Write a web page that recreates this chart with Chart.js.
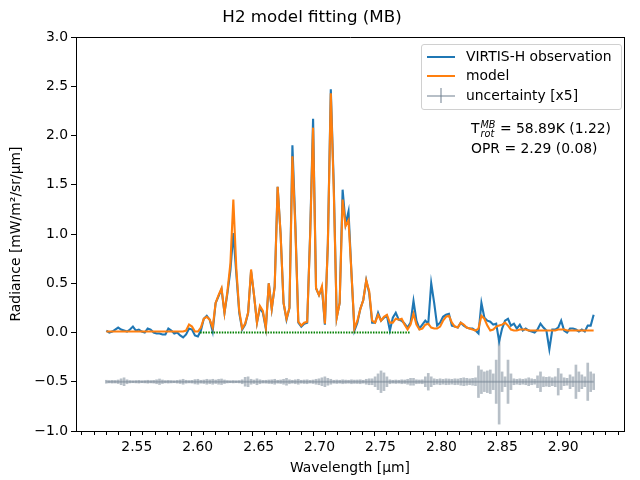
<!DOCTYPE html>
<html>
<head>
<meta charset="utf-8">
<script src="https://cdn.jsdelivr.net/npm/chart.js@4.4.1/dist/chart.umd.min.js"></script>
<style>
    body { margin: 0; background: #fff; }
    #wrap { position: relative; width: 640px; height: 480px; font-family: "DejaVu Sans", sans-serif; }
    #legendBox {
        position: absolute; left: 421px; top: 44px; width: 199px; height: 64px;
        border: 1px solid #d0d0d0; border-radius: 3px; background: rgba(255, 255, 255, 0.8);
    }
    .row { position: absolute; left: 0; height: 19px; font-size: 13.9px; line-height: 19px; color: #000; white-space: nowrap; }
    .swatch { position: absolute; left: 5px; top: 9px; width: 28px; height: 2px; }
    .tick { position: absolute; left: 18px; top: 2px; width: 2px; height: 15px; }
    .label { position: absolute; left: 44px; top: 0; }
    #note { position: absolute; left: 471px; top: 118px; font-size: 13.9px; color: #000; line-height: 20px; white-space: nowrap; }
    .ss { display: inline-block; vertical-align: -4px; line-height: 9px; font-size: 9.7px; font-style: italic; margin-left: 1px; }
    .ss span { display: block; }
</style>
</head>
<body>
<div id="wrap">
    <canvas id="myChart" width="640" height="480"></canvas>
    <div id="legendBox"></div>
    <div id="note">
        <div>T<span class="ss"><span>MB</span><span>rot</span></span> = 58.89K (1.22)</div>
        <div>OPR = 2.29 (0.08)</div>
    </div>
</div>
<script>
// wavelength grid of the spectrum (µm), evenly sampled
const wlStart = 2.525;
const wlEnd = 2.925;

// VIRTIS-H observed radiance (mW/m2/sr/µm)
const observation = [
    0.02, 0.00, 0.01, 0.03, 0.05, 0.03, 0.02, 0.01, 0.03, 0.06,
    0.02, 0.03, 0.01, 0.00, 0.04, 0.03, 0.00, -0.01, -0.01, -0.02,
    -0.02, 0.04, 0.02, -0.01, 0.00, -0.03, -0.05, -0.02, 0.04, 0.03,
    -0.03, -0.04, 0.02, 0.14, 0.17, 0.13, 0.01, 0.30, 0.37, 0.44,
    0.20, 0.40, 0.63, 1.01, 0.60, 0.20, 0.03, 0.08, 0.20, 0.62,
    0.38, 0.10, 0.25, 0.20, 0.04, 0.50, 0.24, 0.47, 1.48, 1.00,
    0.30, 0.13, 0.25, 1.90, 1.10, 0.10, 0.06, 0.09, 0.10, 1.00,
    2.17, 0.45, 0.38, 0.45, 0.08, 0.90, 2.47, 1.50, 0.15, 0.30,
    1.45, 1.10, 1.23, 0.60, 0.02, 0.10, 0.24, 0.33, 0.53, 0.40,
    0.10, 0.10, 0.20, 0.12, 0.15, 0.17, 0.02, 0.15, 0.20, 0.13,
    0.12, 0.09, 0.05, 0.10, 0.32, 0.12, 0.04, 0.08, 0.12, 0.09,
    0.50, 0.30, 0.07, 0.10, 0.16, 0.18, 0.19, 0.07, 0.06, 0.05,
    0.10, 0.07, 0.05, 0.04, 0.04, 0.02, -0.01, 0.30, 0.15, 0.12,
    0.11, 0.08, 0.09, -0.09, 0.04, 0.12, 0.14, 0.07, 0.09, 0.04,
    0.08, 0.02, 0.04, 0.02, 0.01, 0.00, 0.03, 0.09, 0.05, 0.02,
    -0.17, 0.03, 0.03, 0.05, 0.12, 0.02, 0.00, 0.04, 0.04, 0.03,
    0.01, 0.03, 0.01, 0.07, 0.07, 0.18
];

// fitted model radiance
const model = [
    0.01, 0.01, 0.01, 0.01, 0.01, 0.01, 0.01, 0.01, 0.01, 0.01,
    0.01, 0.01, 0.01, 0.01, 0.01, 0.01, 0.01, 0.01, 0.01, 0.01,
    0.01, 0.01, 0.01, 0.01, 0.01, 0.01, 0.01, 0.02, 0.08, 0.06,
    0.01, 0.01, 0.05, 0.14, 0.16, 0.13, 0.05, 0.30, 0.38, 0.45,
    0.20, 0.42, 0.70, 1.35, 0.65, 0.22, 0.04, 0.09, 0.20, 0.64,
    0.38, 0.10, 0.27, 0.22, 0.05, 0.50, 0.24, 0.46, 1.48, 1.00,
    0.30, 0.14, 0.25, 1.79, 1.05, 0.11, 0.07, 0.10, 0.11, 0.98,
    2.08, 0.45, 0.38, 0.47, 0.09, 0.90, 2.43, 1.45, 0.15, 0.30,
    1.35, 1.08, 1.14, 0.60, 0.04, 0.12, 0.24, 0.33, 0.53, 0.42,
    0.12, 0.10, 0.18, 0.12, 0.16, 0.18, 0.10, 0.10, 0.14, 0.13,
    0.14, 0.08, 0.03, 0.08, 0.19, 0.08, 0.03, 0.04, 0.08, 0.09,
    0.05, 0.04, 0.04, 0.06, 0.12, 0.16, 0.17, 0.10, 0.06, 0.05,
    0.10, 0.08, 0.05, 0.04, 0.03, 0.02, 0.04, 0.17, 0.14, 0.07,
    0.02, 0.03, 0.06, 0.07, 0.08, 0.10, 0.07, 0.03, 0.02, 0.02,
    0.03, 0.03, 0.03, 0.02, 0.02, 0.02, 0.02, 0.02, 0.02, 0.02,
    0.02, 0.02, 0.02, 0.03, 0.03, 0.03, 0.02, 0.02, 0.02, 0.02,
    0.02, 0.02, 0.02, 0.02, 0.02, 0.02
];

// 1-sigma uncertainty, already multiplied by 5, plotted around uncOffset
const uncertainty = [
    0.015, 0.012, 0.014, 0.013, 0.018, 0.030, 0.040, 0.020, 0.012, 0.010,
    0.012, 0.014, 0.010, 0.012, 0.015, 0.012, 0.014, 0.020, 0.028, 0.018,
    0.012, 0.014, 0.012, 0.010, 0.014, 0.018, 0.025, 0.015, 0.012, 0.014,
    0.022, 0.025, 0.015, 0.018, 0.025, 0.020, 0.025, 0.018, 0.025, 0.028,
    0.018, 0.012, 0.010, 0.012, 0.010, 0.012, 0.020, 0.045, 0.050, 0.025,
    0.018, 0.030, 0.020, 0.014, 0.015, 0.018, 0.020, 0.025, 0.015, 0.018,
    0.025, 0.035, 0.020, 0.015, 0.020, 0.025, 0.015, 0.018, 0.020, 0.014,
    0.018, 0.025, 0.030, 0.040, 0.050, 0.035, 0.025, 0.015, 0.018, 0.015,
    0.020, 0.017, 0.015, 0.020, 0.017, 0.018, 0.020, 0.015, 0.025, 0.030,
    0.030, 0.050, 0.080, 0.110, 0.090, 0.050, 0.020, 0.015, 0.018, 0.015,
    0.020, 0.018, 0.025, 0.035, 0.035, 0.020, 0.018, 0.020, 0.050, 0.085,
    0.050, 0.030, 0.025, 0.030, 0.025, 0.030, 0.028, 0.025, 0.030, 0.028,
    0.035, 0.040, 0.035, 0.030, 0.035, 0.040, 0.160, 0.120, 0.100, 0.110,
    0.120, 0.080, 0.220, 0.430, 0.100, 0.050, 0.220, 0.080, 0.030, 0.025,
    0.030, 0.025, 0.030, 0.040, 0.030, 0.025, 0.060, 0.100, 0.050, 0.045,
    0.050, 0.040, 0.050, 0.135, 0.080, 0.040, 0.035, 0.070, 0.050, 0.170,
    0.100, 0.070, 0.050, 0.190, 0.100, 0.080
];
const uncOffset = -0.5;

// wavelength window used for the fit (green markers at zero)
const fitRange = [2.602, 2.774];

const legendItems = ['VIRTIS-H observation', 'model', 'uncertainty [x5]'];
const colors = ['#1f77b4', '#ff7f0e', 'rgba(112, 128, 144, 0.5)'];

const FONT = 'DejaVu Sans';
// not a whole number of 0.01 steps apart, so ticks stay on round values
const X_MIN = 2.5052;
const X_MAX = 2.9448;

// x position of every sample
const wavelength = observation.map((v, i) => wlStart + i * (wlEnd - wlStart) / (observation.length - 1));

function toPoints(values) {
    return values.map((v, i) => ({ x: wavelength[i], y: v }));
}

function isMajor(value) {
    return Math.abs(value * 20 - Math.round(value * 20)) < 1e-6;
}

const errorBars = uncertainty.map((u, i) => ({ x: wavelength[i], y: [uncOffset - u, uncOffset + u] }));
const errorLine = wavelength.map(w => ({ x: w, y: uncOffset }));

const config = {
    type: 'line',
    data: {
        datasets: [
            {
                label: legendItems[0],
                data: toPoints(observation),
                borderColor: colors[0],
                borderWidth: 2.1,
                pointRadius: 0,
                order: 1
            },
            {
                label: legendItems[1],
                data: toPoints(model),
                borderColor: colors[1],
                borderWidth: 2.1,
                pointRadius: 0,
                order: 0
            },
            {
                label: 'fit range',
                data: [{ x: fitRange[0], y: 0 }, { x: fitRange[1], y: 0 }],
                borderColor: '#008000',
                borderWidth: 2,
                borderDash: [1.5, 1.2],
                pointRadius: 0,
                order: -1
            },
            {
                label: legendItems[2],
                data: errorLine,
                borderColor: colors[2],
                borderWidth: 2,
                pointRadius: 0,
                order: 3
            },
            {
                type: 'bar',
                label: 'errorbars',
                data: errorBars,
                backgroundColor: colors[2],
                borderWidth: 0,
                barThickness: 2,
                order: 4
            }
        ]
    },
    options: {
        responsive: false,
        animation: false,
        layout: { padding: { left: 0, right: 16, top: 0, bottom: 0 } },
        plugins: {
            legend: { display: false },
            tooltip: { enabled: false },
            title: {
                display: true,
                text: 'H2 model fitting (MB)',
                color: '#000',
                font: { family: FONT, size: 16.7, weight: 'normal' },
                padding: { top: 8, bottom: 9 }
            }
        },
        scales: {
            x: {
                type: 'linear',
                position: 'bottom',
                min: X_MIN,
                max: X_MAX,
                afterFit: (scale) => { scale.height = 49; },
                border: { display: true, color: '#000', width: 1 },
                grid: {
                    display: true,
                    drawOnChartArea: false,
                    tickLength: 5,
                    tickColor: '#000',
                    tickWidth: 1,
                    // minor ticks: dash pattern cuts them short
                    tickBorderDash: (ctx) => (ctx.tick && isMajor(ctx.tick.value)) ? [] : [3, 20]
                },
                ticks: {
                    stepSize: 0.01,
                    includeBounds: false,
                    autoSkip: false,
                    maxRotation: 0,
                    padding: 3,
                    color: '#000',
                    font: { family: FONT, size: 13.9 },
                    callback: (value) => isMajor(value) ? value.toFixed(2) : ''
                },
                title: {
                    display: true,
                    text: 'Wavelength [μm]',
                    color: '#000',
                    font: { family: FONT, size: 13.9 },
                    padding: { top: 0, bottom: 3 }
                }
            },
            y: {
                type: 'linear',
                position: 'left',
                min: -1,
                max: 3,
                afterFit: (scale) => { scale.width = 76; },
                border: { display: true, color: '#000', width: 1 },
                grid: { display: true, drawOnChartArea: false, tickLength: 5, tickColor: '#000', tickWidth: 1 },
                ticks: {
                    stepSize: 0.5,
                    padding: 3,
                    color: '#000',
                    font: { family: FONT, size: 13.9 },
                    callback: (value) => value.toFixed(1).replace('-', '\u2212')
                },
                title: {
                    display: true,
                    text: 'Radiance [mW/m²/sr/μm]',
                    color: '#000',
                    font: { family: FONT, size: 13.9 },
                    padding: { top: 8, bottom: 0 }
                }
            },
            // top and right spines of the frame
            xTop: {
                type: 'linear',
                position: 'top',
                min: X_MIN,
                max: X_MAX,
                afterFit: (scale) => { scale.height = 0; },
                border: { display: true, color: '#000', width: 1 },
                grid: { display: false, drawTicks: false },
                ticks: { display: false }
            },
            yRight: {
                type: 'linear',
                position: 'right',
                min: -1,
                max: 3,
                afterFit: (scale) => { scale.width = 0; },
                border: { display: true, color: '#000', width: 1 },
                grid: { display: false, drawTicks: false },
                ticks: { display: false }
            }
        }
    }
};

const myChart = new Chart(document.getElementById('myChart'), config);

// legend drawn as html on top of the chart
function buildLegend() {
    const box = document.getElementById('legendBox');
    legendItems.forEach((name, i) => {
        const row = document.createElement('div');
        row.className = 'row';
        row.style.top = (2 + i * 19.3) + 'px';
        row.style.width = '100%';
        let html = `<div class="swatch" style="background:${colors[i]}"></div>`;
        if (i === 2) {
            html += `<div class="tick" style="background:${colors[i]}"></div>`;
        }
        html += `<div class="label">${name}</div>`;
        row.innerHTML = html;
        box.appendChild(row);
    });
}
buildLegend();
</script>
</body>
</html>
